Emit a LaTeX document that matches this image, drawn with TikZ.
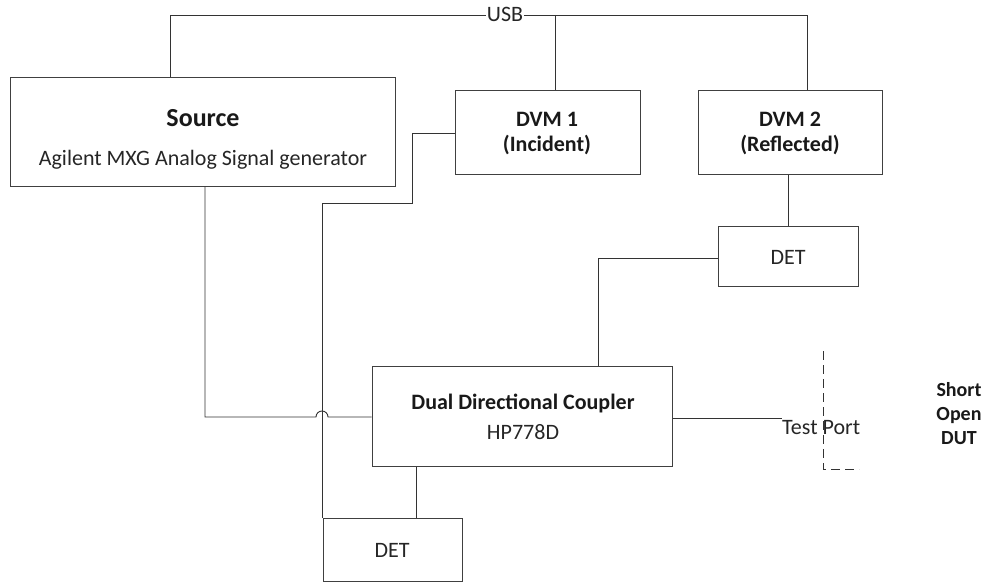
\documentclass[tikz,border=0pt]{standalone}
\usepackage{fontspec}
\setmainfont{Carlito}
\begin{document}
\begin{tikzpicture}[x=1pt,y=-1pt,
  box/.style={draw=black!75,line width=1pt,inner sep=0pt},
  wire/.style={draw=black!80,line width=0.9pt},
  txt/.style={inner sep=0pt,anchor=base,text=black!85,font=\fontsize{22}{25}\selectfont},
  btxt/.style={inner sep=0pt,anchor=base,text=black!90,font=\bfseries\fontsize{22}{25}\selectfont}]
\useasboundingbox (0,0) rectangle (985,583);
% boxes
\node[box,minimum width=385pt,minimum height=108pt] (src) at (202.5,132) {};
\node[btxt,font=\bfseries\fontsize{26}{30}\selectfont] (srct) at (203,127) {Source};
\node[txt] (srcs) at (203,165) {Agilent MXG Analog Signal generator};
\node[box,minimum width=185pt,minimum height=83pt] (dvm1) at (547.5,132.5) {};
\node[btxt] (dvm1a) at (547,127) {DVM 1};
\node[btxt] (dvm1b) at (547,152) {(Incident)};
\node[box,minimum width=184pt,minimum height=83pt] (dvm2) at (790,132.5) {};
\node[btxt] (dvm2a) at (790,127) {DVM 2};
\node[btxt] (dvm2b) at (790,152) {(Reflected)};
\node[box,minimum width=140pt,minimum height=60pt] (det2) at (788,256) {};
\node[txt] (det2t) at (788,264) {DET};
\node[box,minimum width=300pt,minimum height=100pt] (cpl) at (522,416.5) {};
\node[btxt] (cplt) at (523,409) {Dual Directional Coupler};
\node[txt] (cpls) at (523,439) {HP778D};
\node[box,minimum width=139pt,minimum height=63pt] (det1) at (392.5,549.5) {};
\node[txt] (det1t) at (392,557) {DET};
% USB bus
\node[txt,fill=white,inner xsep=0.5pt] (usb) at (505,22) {USB};
\coordinate (u1) at (170,15);
\coordinate (u2) at (555,15);
\coordinate (u3) at (807,15);
\draw[wire] (src.north -| u1) -- (u1) -- (usb.west |- u1);
\draw[wire] (usb.east |- u3) -- (u3) -- (dvm2.north -| u3);
\draw[wire] (u2) -- (dvm1.north -| u2);
% DVM2 to DET
\draw[wire] (dvm2.south -| det2.north) -- (det2.north);
% DET2 to coupler
\coordinate (c1) at (598,258);
\draw[wire] (det2.west |- c1) -- (c1) -- (cpl.north -| c1);
% DET1 to DVM1
\coordinate (d1) at (322,203);
\coordinate (d2) at (412,203);
\coordinate (d3) at (412,133);
\draw[wire] (det1.north -| d1) -- (d1) -- (d2) -- (d3) -- (dvm1.west |- d3);
% coupler to DET1
\coordinate (e1) at (416,500);
\draw[wire] (cpl.south -| e1) -- (det1.north -| e1);
% Source to coupler with jump
\coordinate (s1) at (205,417);
\draw[wire] (src.south -| s1) -- (s1) -- (316,417) arc[start angle=180,end angle=0,radius=6pt] -- (cpl.west |- s1);
% test port
\coordinate (tp) at (782,418);
\draw[wire] (cpl.east |- tp) -- (tp);
\node[txt,anchor=base west] (tpt) at (782,434) {Test Port};
\coordinate (dsh1) at (823,351);
\coordinate (dsh2) at (823,469);
\coordinate (dsh3) at (859,469);
\draw[wire,dash pattern=on 9pt off 5pt] (dsh1) -- (dsh2) -- (dsh3);
\node[btxt,font=\bfseries\fontsize{20}{24}\selectfont] (dut1) at (959,396) {Short};
\node[btxt,font=\bfseries\fontsize{20}{24}\selectfont] (dut2) at (959,420) {Open};
\node[btxt,font=\bfseries\fontsize{20}{24}\selectfont] (dut3) at (959,444) {DUT};
\end{tikzpicture}
\end{document}
